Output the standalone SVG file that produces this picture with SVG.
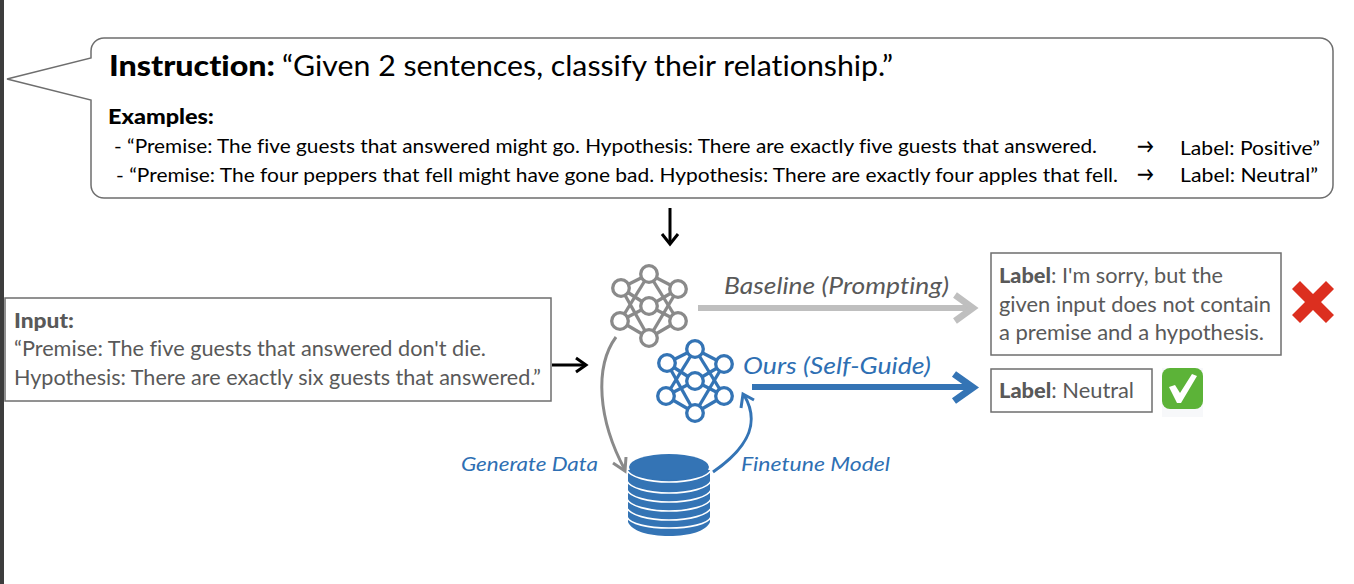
<svg xmlns="http://www.w3.org/2000/svg" width="1354" height="584" viewBox="0 0 1354 584">
<style>
text{font-family:"Lato","Noto Sans","Liberation Sans",sans-serif;font-variant-ligatures:none}
.k{fill:#000}
.g{fill:#595959}
.b{fill:#2e6fb3}
.box{fill:#fff;stroke:#6e6e6e;stroke-width:1.5}
.gn{stroke:#8a8a8a;stroke-width:3.300}
.bn{stroke:#3474b5;stroke-width:3.300}
.t22{font-size:20.5px}
.t20{font-size:20px}
</style>
<defs>
<g id="net">
<line x1="-28" y1="-18" x2="0" y2="-32"/><line x1="-28" y1="-18" x2="0" y2="0"/><line x1="-28" y1="-18" x2="0" y2="32"/>
<line x1="-29" y1="15" x2="0" y2="-32"/><line x1="-29" y1="15" x2="0" y2="0"/><line x1="-29" y1="15" x2="0" y2="32"/>
<line x1="29" y1="-17" x2="0" y2="-32"/><line x1="29" y1="-17" x2="0" y2="0"/><line x1="29" y1="-17" x2="0" y2="32"/>
<line x1="29" y1="15" x2="0" y2="-32"/><line x1="29" y1="15" x2="0" y2="0"/><line x1="29" y1="15" x2="0" y2="32"/>
<g fill="#fff">
<circle cx="0" cy="-32" r="8.300"/><circle cx="-28" cy="-18" r="8.300"/><circle cx="29" cy="-17" r="8.300"/><circle cx="0" cy="0" r="8.300"/><circle cx="-29" cy="15" r="8.300"/><circle cx="29" cy="15" r="8.300"/><circle cx="0" cy="32" r="8.300"/>
</g>
</g>
</defs>
<rect width="1354" height="584" fill="#fff"/>
<rect x="0" y="0" width="4" height="584" fill="#3d3d3d"/>

<g id="instruction">
<path d="M104 38H1320a13 13 0 0 1 13 13V185a13 13 0 0 1-13 13H104a13 13 0 0 1-13-13V100L7 79L91 58V51a13 13 0 0 1 13-13Z" fill="#fff" stroke="#6e6e6e" stroke-width="1.5"/>
<text x="109" y="76" font-size="28" class="k" textLength="166" lengthAdjust="spacingAndGlyphs" font-weight="900">Instruction:</text>
<text x="282" y="76" font-size="28" class="k" textLength="611" lengthAdjust="spacingAndGlyphs">“Given 2 sentences, classify their relationship.”</text>
<text x="108" y="124" font-size="20" class="k" font-weight="900" textLength="106" lengthAdjust="spacingAndGlyphs">Examples:</text>
<text x="114" y="153" class="k t20" textLength="983" lengthAdjust="spacingAndGlyphs">- “Premise: The five guests that answered might go. Hypothesis: There are exactly five guests that answered.</text>
<text x="1137" y="153" class="k t20" font-weight="700" textLength="17" lengthAdjust="spacingAndGlyphs">→</text>
<text x="1180" y="155" class="k t20" textLength="140" lengthAdjust="spacingAndGlyphs">Label: Positive”</text>
<text x="116" y="182" class="k t20" textLength="1002" lengthAdjust="spacingAndGlyphs">- “Premise: The four peppers that fell might have gone bad. Hypothesis: There are exactly four apples that fell.</text>
<text x="1137" y="181" class="k t20" font-weight="700" textLength="17" lengthAdjust="spacingAndGlyphs">→</text>
<text x="1180" y="182" class="k t20" textLength="138" lengthAdjust="spacingAndGlyphs">Label: Neutral”</text>
</g>

<g id="input">
<rect class="box" x="5" y="298" width="546" height="103"/>
<text x="14" y="328" font-size="20" class="g" font-weight="900" textLength="60" lengthAdjust="spacingAndGlyphs">Input:</text>
<text x="14" y="356" class="g t22" textLength="472" lengthAdjust="spacingAndGlyphs">“Premise: The five guests that answered don't die.</text>
<text x="14" y="385" class="g t22" textLength="527" lengthAdjust="spacingAndGlyphs">Hypothesis: There are exactly six guests that answered.”</text>
</g>

<g id="baseline-model" class="gn"><use href="#net" transform="translate(649,306)"/></g>
<g id="self-guide-model" class="bn"><use href="#net" transform="translate(695,381)"/></g>

<g id="database">
<path d="M628 470V522C632 531 648 536 669 536S706 531 710 522V470Z" fill="#3474b5"/>
<g fill="none" stroke="#fff" stroke-width="1.600">
<path d="M627 470C630 477 648 482 669 482S708 477 711 470"/>
<path d="M627 481C630 488 648 493 669 493S708 488 711 481"/>
<path d="M627 490C630 497 648 502 669 502S708 497 711 490"/>
<path d="M627 499C630 506 648 511 669 511S708 506 711 499"/>
<path d="M627 508C630 515 648 520 669 520S708 515 711 508"/>
<path d="M627 517C630 524 648 528 669 528S708 524 711 517"/>
</g>
<ellipse cx="669" cy="467" rx="40" ry="13" fill="#3474b5"/>
</g>

<g id="connectors" fill="none" stroke-linecap="butt">
<path d="M670 208V244" stroke="#000" stroke-width="3"/>
<path d="M662 234L670 244L678 234" stroke="#000" stroke-width="3"/>
<path d="M552 365H586" stroke="#000" stroke-width="3"/>
<path d="M576 358L586 365L576 372" stroke="#000" stroke-width="3"/>
<path d="M698 308H974" stroke="#bfbfbf" stroke-width="6"/>
<path d="M955 295L973 308L955 321" stroke="#bfbfbf" stroke-width="6.500"/>
<path d="M752 387H974" stroke="#3474b5" stroke-width="6"/>
<path d="M954 374L973 387.500L954 401" stroke="#3474b5" stroke-width="7"/>
<path d="M616 337C594 367 598 420 625 470" stroke="#8a8a8a" stroke-width="3"/>
<path d="M613 463L625 471L626 457" stroke="#8a8a8a" stroke-width="3"/>
<path d="M713 472C745 450 762 425 744 395" stroke="#3474b5" stroke-width="3"/>
<path d="M741 408L743 394L754 400" stroke="#3474b5" stroke-width="3"/>
</g>

<g id="labels">
<text x="724" y="294" font-size="23" font-style="italic" class="g" textLength="225" lengthAdjust="spacingAndGlyphs">Baseline (Prompting)</text>
<text x="743" y="374" font-size="23" font-style="italic" class="b" textLength="188" lengthAdjust="spacingAndGlyphs">Ours (Self-Guide)</text>
<text x="461" y="471" font-size="19.500" font-style="italic" class="b" textLength="137" lengthAdjust="spacingAndGlyphs">Generate Data</text>
<text x="741" y="471" font-size="19.500" font-style="italic" class="b" textLength="149" lengthAdjust="spacingAndGlyphs">Finetune Model</text>
</g>

<g id="output-baseline">
<rect class="box" x="991" y="253" width="290" height="102"/>
<text x="999" y="283" class="g t22" textLength="224" lengthAdjust="spacingAndGlyphs"><tspan font-weight="900">Label</tspan>: I'm sorry, but the</text>
<text x="999" y="312" class="g t22" textLength="272" lengthAdjust="spacingAndGlyphs">given input does not contain</text>
<text x="999" y="340" class="g t22" textLength="265" lengthAdjust="spacingAndGlyphs">a premise and a hypothesis.</text>
</g>
<g id="output-ours">
<rect class="box" x="991" y="369" width="161" height="43"/>
<text x="999" y="398" class="g t22" textLength="135" lengthAdjust="spacingAndGlyphs"><tspan font-weight="900">Label</tspan>: Neutral</text>
</g>
<g id="cross-mark">
<path d="M1300 281L1313 294L1326 281L1334 289L1321 302L1334 315L1326 323L1313 310L1300 323L1292 315L1305 302L1292 289Z" fill="#dc2f1f"/>
</g>
<g id="check-mark">
<rect x="1162" y="368" width="41" height="49" fill="#f7f8fa"/>
<rect x="1162" y="368" width="41" height="41" rx="8" fill="#5cb338"/>
<path d="M1169 387L1175 385L1180 393L1192 374L1197 376L1181 403L1177 403Z" fill="#fff"/>
</g>
</svg>
